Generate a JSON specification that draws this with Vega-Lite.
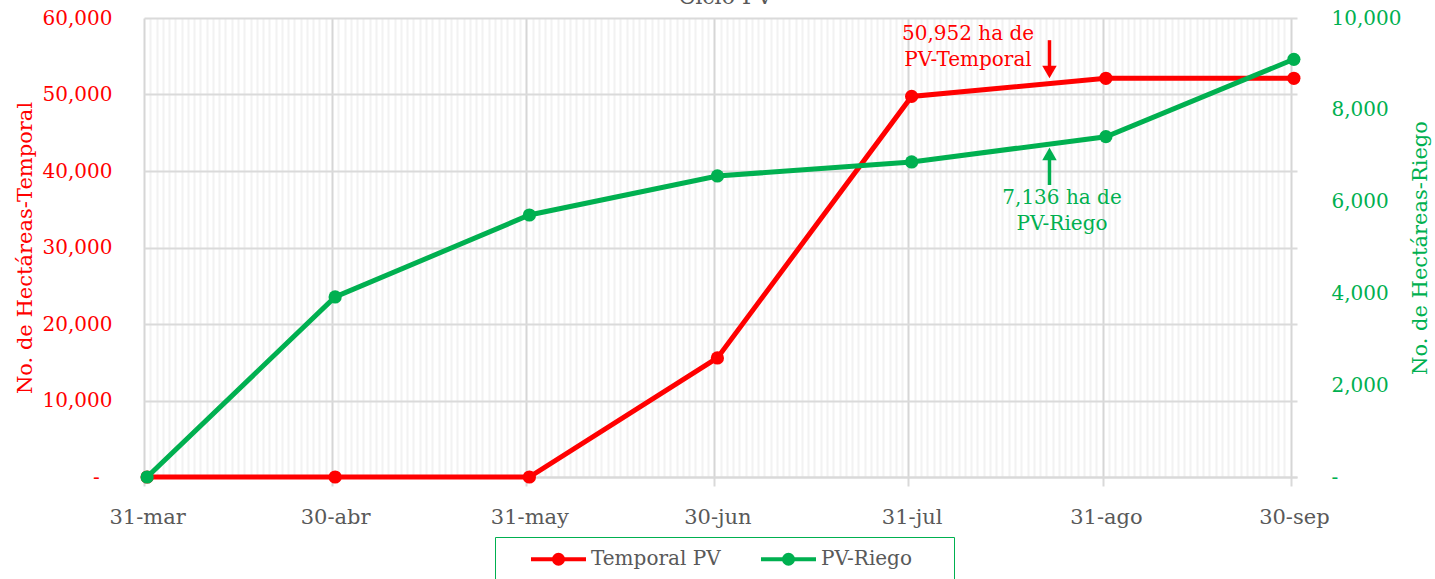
{
  "$schema": "https://vega.github.io/schema/vega-lite/v6.json",
  "autosize": "none",
  "width": 1153,
  "height": 459,
  "padding": {"left": 144, "top": 18, "right": 138, "bottom": 102},
  "background": "white",
  "config": {"font": "DejaVu Serif", "view": {"stroke": null}},
  "title": {"text": "Ciclo PV", "color": "#595959", "fontSize": 22, "font": "DejaVu Serif", "fontWeight": "normal", "anchor": "middle", "offset": 0, "dx": 5, "dy": 1},
  "datasets": {
    "series": [
      {"fecha": "2023-03-31", "serie": "Temporal PV", "valor": 0},
      {"fecha": "2023-04-30", "serie": "Temporal PV", "valor": 0},
      {"fecha": "2023-05-31", "serie": "Temporal PV", "valor": 0},
      {"fecha": "2023-06-30", "serie": "Temporal PV", "valor": 15560},
      {"fecha": "2023-07-31", "serie": "Temporal PV", "valor": 49750},
      {"fecha": "2023-08-31", "serie": "Temporal PV", "valor": 52120},
      {"fecha": "2023-09-30", "serie": "Temporal PV", "valor": 52120},
      {"fecha": "2023-03-31", "serie": "PV-Riego", "valor": 0},
      {"fecha": "2023-04-30", "serie": "PV-Riego", "valor": 3922},
      {"fecha": "2023-05-31", "serie": "PV-Riego", "valor": 5708},
      {"fecha": "2023-06-30", "serie": "PV-Riego", "valor": 6558},
      {"fecha": "2023-07-31", "serie": "PV-Riego", "valor": 6863},
      {"fecha": "2023-08-31", "serie": "PV-Riego", "valor": 7414},
      {"fecha": "2023-09-30", "serie": "PV-Riego", "valor": 9100}
    ],
    "notas": [
      {"fecha": "2023-08-09", "serie": "Temporal PV", "valor": 57900, "texto": "50,952 ha de\nPV-Temporal"},
      {"fecha": "2023-08-24", "serie": "PV-Riego", "valor": 6078, "texto": "7,136 ha de\nPV-Riego"}
    ],
    "flechas": [
      {"fecha": "2023-08-22", "serie": "Temporal PV", "valor": 57100, "tope": 53000},
      {"fecha": "2023-08-22", "serie": "PV-Riego", "valor": 6362, "tope": 6980}
    ],
    "puntas": [
      {"fecha": "2023-08-22", "serie": "Temporal PV", "valor": 52950},
      {"fecha": "2023-08-22", "serie": "PV-Riego", "valor": 7040}
    ]
  },
  "encoding": {
    "x": {
      "field": "fecha",
      "type": "temporal",
      "scale": {
        "type": "utc",
        "domain": [
          {"year": 2023, "month": 3, "date": 30, "hours": 12, "utc": true},
          {"year": 2023, "month": 9, "date": 30, "hours": 12, "utc": true}
        ]
      },
      "axis": {
        "title": null,
        "tickCount": {"interval": "day", "step": 1},
        "tickOffset": -3.13,
        "labelOffset": 3.13,
        "labelExpr": "utcdate(time(datum.value) + 86400000) == 1 ? (utcdate(time(datum.value)) + '-' + ['ene','feb','mar','abr','may','jun','jul','ago','sep','oct','nov','dic'][utcmonth(time(datum.value))]) : ''",
        "labelOverlap": false,
        "labelFlush": false,
        "labelBound": false,
        "labelAngle": 0,
        "labelColor": "#595959",
        "labelFontSize": 21,
        "labelPadding": 20,
        "grid": true,
        "gridColor": {"condition": {"test": "utcdate(time(datum.value) + 86400000) == 1", "value": "#D6D6D6"}, "value": "#F2F2F2"},
        "gridWidth": 2,
        "ticks": true,
        "tickSize": 9,
        "tickWidth": 2,
        "tickColor": {"condition": {"test": "utcdate(time(datum.value) + 86400000) == 1", "value": "#D9D9D9"}, "value": "transparent"},
        "domain": true,
        "domainColor": "#D9D9D9",
        "domainWidth": 2
      }
    }
  },
  "layer": [
    {
      "encoding": {
        "y": {
          "field": "valor",
          "type": "quantitative",
          "scale": {"domain": [0, 60000]},
          "axis": {
            "orient": "left",
            "values": [0, 10000, 20000, 30000, 40000, 50000, 60000],
            "labelExpr": "datum.value == 0 ? '-\u00a0\u00a0\u200b' : format(datum.value, ',')",
            "labelColor": "#FF0000",
            "labelFontSize": 20,
            "labelPadding": 32,
            "ticks": false,
            "domain": false,
            "grid": true,
            "gridColor": "#DADADA",
            "gridWidth": 2,
            "title": "No. de Hectáreas-Temporal",
            "titleColor": "#FF0000",
            "titleFontSize": 21,
            "titleFontWeight": "normal",
            "titlePadding": 7
          }
        }
      },
      "layer": [
        {
          "data": {"name": "series"},
          "transform": [{"filter": "datum.serie == 'Temporal PV'"}],
          "mark": {"type": "line", "strokeWidth": 5, "point": {"filled": true, "size": 175, "opacity": 1}},
          "encoding": {
            "color": {
              "field": "serie",
              "type": "nominal",
              "scale": {"domain": ["Temporal PV", "PV-Riego"], "range": ["#FF0000", "#00B050"]},
              "legend": {
                "title": null,
                "orient": "none",
                "legendX": 351,
                "legendY": 519,
                "direction": "horizontal",
                "strokeColor": "#00B050",
                "fillColor": "white",
                "padding": 10,
                "labelFontSize": 20,
                "labelColor": "#595959",
                "labelExpr": "datum.label == 'PV-Riego' ? datum.label + '\u00a0\u00a0\u00a0\u00a0\u00a0\u200b' : datum.label",
                "symbolType": "M1.4,0L6.9,0M3.7,0A0.45,0.45,0,1,1,4.6,0A0.45,0.45,0,1,1,3.7,0Z",
                "symbolSize": 400,
                "symbolStrokeWidth": 4,
                "labelOffset": 62,
                "columnPadding": 14
              }
            }
          }
        },
        {
          "data": {"name": "flechas"},
          "transform": [{"filter": "datum.serie == 'Temporal PV'"}],
          "mark": {"type": "rule", "color": "#FF0000", "strokeWidth": 3.5},
          "encoding": {"y2": {"field": "tope"}}
        },
        {
          "data": {"name": "puntas"},
          "transform": [{"filter": "datum.serie == 'Temporal PV'"}],
          "mark": {"type": "point", "shape": "triangle-down", "filled": true, "size": 210, "color": "#FF0000", "opacity": 1}
        },
        {
          "data": {"name": "notas"},
          "transform": [{"filter": "datum.serie == 'Temporal PV'"}],
          "mark": {"type": "text", "color": "#FF0000", "fontSize": 20, "lineBreak": "\n", "lineHeight": 26, "align": "center", "baseline": "middle"},
          "encoding": {"text": {"field": "texto"}}
        }
      ]
    },
    {
      "encoding": {
        "y": {
          "field": "valor",
          "type": "quantitative",
          "scale": {"domain": [0, 10000]},
          "axis": {
            "orient": "right",
            "values": [0, 2000, 4000, 6000, 8000, 10000],
            "labelExpr": "datum.value == 0 ? '-' : format(datum.value, ',')",
            "labelColor": "#00B050",
            "labelFontSize": 20,
            "labelPadding": 34,
            "ticks": false,
            "domain": false,
            "grid": false,
            "title": "No. de Hectáreas-Riego",
            "titleColor": "#00B050",
            "titleFontSize": 21,
            "titleFontWeight": "normal",
            "titleAngle": 270,
            "titlePadding": 30
          }
        }
      },
      "layer": [
        {
          "data": {"name": "series"},
          "transform": [{"filter": "datum.serie == 'PV-Riego'"}],
          "mark": {"type": "line", "strokeWidth": 5, "point": {"filled": true, "size": 175, "opacity": 1}},
          "encoding": {
            "color": {
              "field": "serie",
              "type": "nominal",
              "scale": {"domain": ["Temporal PV", "PV-Riego"], "range": ["#FF0000", "#00B050"]},
              "legend": {
                "title": null,
                "orient": "none",
                "legendX": 351,
                "legendY": 519,
                "direction": "horizontal",
                "strokeColor": "#00B050",
                "fillColor": "white",
                "padding": 10,
                "labelFontSize": 20,
                "labelColor": "#595959",
                "labelExpr": "datum.label == 'PV-Riego' ? datum.label + '\u00a0\u00a0\u00a0\u00a0\u00a0\u200b' : datum.label",
                "symbolType": "M1.4,0L6.9,0M3.7,0A0.45,0.45,0,1,1,4.6,0A0.45,0.45,0,1,1,3.7,0Z",
                "symbolSize": 400,
                "symbolStrokeWidth": 4,
                "labelOffset": 62,
                "columnPadding": 14
              }
            }
          }
        },
        {
          "data": {"name": "flechas"},
          "transform": [{"filter": "datum.serie == 'PV-Riego'"}],
          "mark": {"type": "rule", "color": "#00B050", "strokeWidth": 3.5},
          "encoding": {"y2": {"field": "tope"}}
        },
        {
          "data": {"name": "puntas"},
          "transform": [{"filter": "datum.serie == 'PV-Riego'"}],
          "mark": {"type": "point", "shape": "triangle-up", "filled": true, "size": 210, "color": "#00B050", "opacity": 1}
        },
        {
          "data": {"name": "notas"},
          "transform": [{"filter": "datum.serie == 'PV-Riego'"}],
          "mark": {"type": "text", "color": "#00B050", "fontSize": 20, "lineBreak": "\n", "lineHeight": 26, "align": "center", "baseline": "middle"},
          "encoding": {"text": {"field": "texto"}}
        }
      ]
    }
  ],
  "resolve": {"scale": {"y": "independent"}}
}
